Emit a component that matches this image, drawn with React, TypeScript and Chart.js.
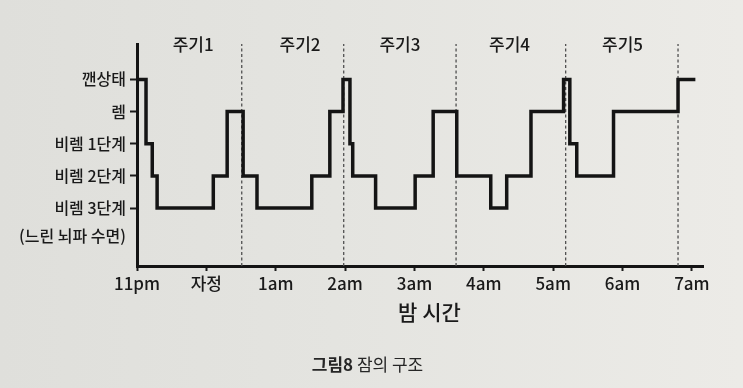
import { useEffect, useRef } from 'react';
import { Chart, registerables } from 'chart.js';

Chart.register(...registerables);

// Time axis (hours after 11pm)
const timeTicks = [0, 1, 2, 3, 4, 5, 6, 7, 8];
const timeLabels = ['11pm', '자정', '1am', '2am', '3am', '4am', '5am', '6am', '7am'];

// Sleep stage axis
const stageTicks = [0.13, 1, 2, 3, 4, 5];
const stageLabels = ['(느린 뇌파 수면)', '비렘 3단계', '비렘 2단계', '비렘 1단계', '렘', '깬상태'];

// Hypnogram: time of change (hours) and the stage entered
const hypnoHours = [0, 0.13, 0.22, 0.29, 1.1, 1.3, 1.53, 1.73, 2.52, 2.78, 2.97, 3.07, 3.11, 3.44, 4.01, 4.27, 4.61, 5.1, 5.33, 5.68, 6.15, 6.24, 6.34, 6.87, 7.8, 8.05];
const hypnoStages = [5, 3, 2, 1, 2, 4, 2, 1, 2, 4, 5, 3, 2, 1, 2, 4, 2, 1, 2, 4, 5, 3, 2, 4, 5, 5];

// Cycle boundaries and labels
const cycleBounds = [1.51, 2.98, 4.6, 6.18, 7.8];
const cycleLabelPos = [0.81, 2.35, 3.79, 5.37, 7.0];
const cycleNames = ['주기1', '주기2', '주기3', '주기4', '주기5'];

const FONT = '"Noto Sans CJK KR", "Noto Sans", sans-serif';
const INK = '#1a1a1a';
const Y_MIN = -0.8;
const Y_MAX = 6.1;
const CYCLE_LABEL_LEVEL = 6.07;

const overlayPlugin = {
  id: 'overlayText',
  afterDraw(chart: any) {
    const { ctx } = chart;
    const xs = chart.scales.x;
    const ys = chart.scales.y;
    ctx.save();
    ctx.fillStyle = INK;
    ctx.textAlign = 'center';
    ctx.textBaseline = 'middle';
    ctx.font = `500 17px ${FONT}`;
    cycleLabelPos.forEach((p, i) => {
      ctx.fillText(cycleNames[i], xs.getPixelForValue(p), ys.getPixelForValue(CYCLE_LABEL_LEVEL));
    });
    // caption
    const part1 = '그림8';
    const part2 = ' 잠의 구조';
    ctx.font = `bold 17px ${FONT}`;
    const w1 = ctx.measureText(part1).width;
    ctx.font = `17px ${FONT}`;
    const w2 = ctx.measureText(part2).width;
    const cx = chart.width / 2 - 4;
    const startX = cx - (w1 + w2) / 2;
    const cy = 365;
    ctx.textAlign = 'left';
    ctx.fillStyle = '#262626';
    ctx.font = `bold 17px ${FONT}`;
    ctx.fillText(part1, startX, cy);
    ctx.font = `17px ${FONT}`;
    ctx.fillText(part2, startX + w1, cy);
    ctx.restore();
  },
};

export default function App() {
  const canvasRef = useRef<HTMLCanvasElement | null>(null);

  useEffect(() => {
    if (!canvasRef.current) return;
    const hypno = hypnoHours.map((h, i) => ({ x: h, y: hypnoStages[i] }));
    const dashed = cycleBounds.map((b) => ({
      data: [
        { x: b, y: Y_MIN },
        { x: b, y: Y_MAX },
      ],
      borderColor: '#505050',
      borderWidth: 1.3,
      borderDash: [3, 2.5],
      pointRadius: 0,
      fill: false,
    }));
    const chart = new Chart(canvasRef.current, {
      type: 'line',
      data: {
        datasets: [
          {
            data: hypno,
            stepped: 'before',
            borderColor: '#141414',
            borderWidth: 3.5,
            pointRadius: 0,
            fill: false,
            borderJoinStyle: 'miter',
            borderCapStyle: 'butt',
          } as any,
          ...(dashed as any[]),
        ],
      },
      options: {
        animation: false,
        responsive: false,
        layout: { padding: { left: 0, right: 40, top: 44, bottom: 62 } },
        plugins: { legend: { display: false }, tooltip: { enabled: false } },
        scales: {
          x: {
            type: 'linear',
            min: 0,
            max: 8.16,
            afterBuildTicks: (s: any) => {
              s.ticks = timeTicks.map((v) => ({ value: v }));
            },
            afterFit: (s: any) => {
              s.height = 60;
            },
            ticks: {
              autoSkip: false,
              maxRotation: 0,
              padding: 2,
              color: INK,
              font: { family: FONT, size: 17, weight: '500' },
              callback: (_v: any, i: number) => timeLabels[i],
            },
            grid: { drawOnChartArea: false, tickLength: 5, tickWidth: 2, tickColor: INK },
            border: { width: 3, color: '#141414' },
            title: {
              display: true,
              text: '    밤 시간',
              color: INK,
              font: { family: FONT, size: 21, weight: '500' },
              padding: { top: 2, bottom: 1 },
            },
          },
          y: {
            type: 'linear',
            min: Y_MIN,
            max: Y_MAX,
            afterBuildTicks: (s: any) => {
              s.ticks = stageTicks.map((v) => ({ value: v }));
            },
            afterFit: (s: any) => {
              s.width = 137;
            },
            ticks: {
              autoSkip: false,
              padding: 4,
              color: INK,
              font: { family: FONT, size: 16, weight: '500' },
              callback: (_v: any, i: number) => stageLabels[i],
            },
            grid: {
              drawOnChartArea: false,
              tickLength: 7,
              tickWidth: 2,
              tickColor: (c: any) => (c.tick && c.tick.value === stageTicks[0] ? 'rgba(0,0,0,0)' : INK),
            },
            border: { width: 3, color: '#141414' },
          },
        },
      },
      plugins: [overlayPlugin],
    });
    return () => chart.destroy();
  }, []);

  return (
    <div
      style={{
        position: 'fixed',
        left: 0,
        top: 0,
        width: 743,
        height: 388,
        background: 'linear-gradient(90deg, #dfdfdb 0%, #e4e4e0 45%, #ecebe7 100%)',
      }}
    >
      <canvas ref={canvasRef} width={743} height={388} style={{ display: 'block' }} />
    </div>
  );
}
